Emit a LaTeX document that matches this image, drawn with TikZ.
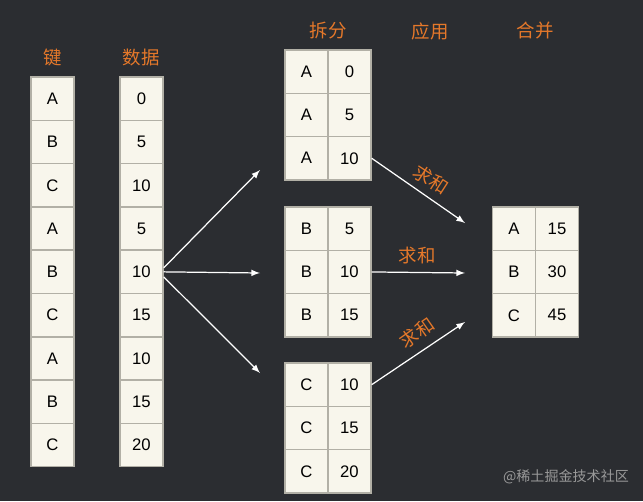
\documentclass[tikz,border=0pt]{standalone}
\usepackage{fontspec}
\setmainfont{Liberation Sans}
\newfontfamily\cjk{Noto Sans CJK SC}
\definecolor{bgdark}{RGB}{43,45,49}
\definecolor{cellfill}{RGB}{248,246,236}
\definecolor{cellline}{RGB}{178,176,166}
\definecolor{hdorange}{RGB}{229,120,42}
\tikzset{
	cell/.style={draw=cellline,fill=cellfill,line width=0.8pt,minimum width=0.86cm,minimum height=0.866cm,inner sep=0pt,font=\fontsize{9.5}{11}\selectfont},
	head/.style={text=hdorange,font=\cjk\fontsize{10.5}{12}\selectfont},
	flow/.style={->,draw=white,line width=0.7pt}
}
\begin{document}
\begin{tikzpicture}[>=latex,x=0.02cm,y=-0.02cm]
		\fill[bgdark] (0,0) rectangle (643,501);
		\node[head] (hkey) at (53,58) {键};\node[head] (hval) at (141,58) {数据};
		\node[head] (hsplit) at (328,31) {拆分};\node[head] (happly) at (430,31) {应用};\node[head] (hmerge) at (535,31) {合并};
		\foreach \k/\v [count=\i] in {A/0,B/5,C/10,A/5,B/10,C/15,A/10,B/15,C/20}{
			\node[cell] (key\i) at (52.5,{77+43.3*(\i-0.5)}) {\k};\node[cell] (val\i) at (141.5,{77+43.3*(\i-0.5)}) {\v};}
		\foreach \g/\K/\top/\vals in {a/A/50/{0,5,10},b/B/207/{5,10,15},c/C/363/{10,15,20}}{
			\foreach \v [count=\i] in \vals{
				\node[cell] (\g\i k) at (306.5,{\top+43.3*(\i-0.5)}) {\K};\node[cell] (\g\i v) at (349.5,{\top+43.3*(\i-0.5)}) {\v};}}
		\foreach \k/\v [count=\i] in {A/15,B/30,C/45}{
			\node[cell] (res\i k) at (514,{207+43.3*(\i-0.5)}) {\k};\node[cell] (res\i v) at (557,{207+43.3*(\i-0.5)}) {\v};}
		% split
		\coordinate (sa) at (260,170);\coordinate (sb) at (260,273);\coordinate (sc) at (260,373);
		\draw[flow] ([yshift=0.08cm]val5.east) -- (sa);\draw[flow] (val5.east) -- (sb);\draw[flow] ([yshift=-0.1cm]val5.east) -- (sc);
		% apply + combine
		\coordinate (ma) at (465,223);\coordinate (mb) at (465,273);\coordinate (mc) at (465,322);
		\draw[flow] (a3v.east) -- (ma);\draw[flow] (b2v.east) -- (mb);\draw[flow] (c1v.east) -- (mc);
		\node[head,rotate=-33] (suma) at (431,180) {求和};\node[head] (sumb) at (417,256) {求和};\node[head,rotate=35] (sumc) at (417,333) {求和};
		\node[text=gray!80,font=\cjk\fontsize{8}{9}\selectfont] (mark) at (566,477) {@稀土掘金技术社区};
	\end{tikzpicture}
\end{document}
